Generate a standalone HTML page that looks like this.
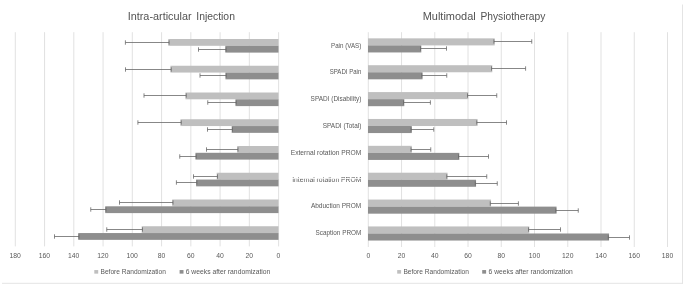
<!DOCTYPE html>
<html><head><meta charset="utf-8"><title>Chart</title>
<style>
html,body{margin:0;padding:0;background:#fff;}
body{width:685px;height:288px;overflow:hidden;}
svg{display:block;}
text{font-family:"Liberation Sans", sans-serif;fill:#595959;}
.t{font-size:11.2px;fill:#525252;}
.s{font-size:6.6px;}
.a{font-size:6.8px;}
</style></head><body>
<svg width="685" height="288" viewBox="0 0 685 288">
<rect width="685" height="288" fill="#ffffff"/>

<line x1="2" y1="283.3" x2="683" y2="283.3" stroke="#e4e4e4" stroke-width="1"/>
<line x1="682.5" y1="4.5" x2="682.5" y2="283.8" stroke="#e4e4e4" stroke-width="1"/>
<line x1="278.60" y1="32.2" x2="278.60" y2="246.4" stroke="#d9d9d9" stroke-width="0.8"/>
<line x1="249.34" y1="32.2" x2="249.34" y2="246.4" stroke="#d9d9d9" stroke-width="0.8"/>
<line x1="220.09" y1="32.2" x2="220.09" y2="246.4" stroke="#d9d9d9" stroke-width="0.8"/>
<line x1="190.83" y1="32.2" x2="190.83" y2="246.4" stroke="#d9d9d9" stroke-width="0.8"/>
<line x1="161.58" y1="32.2" x2="161.58" y2="246.4" stroke="#d9d9d9" stroke-width="0.8"/>
<line x1="132.32" y1="32.2" x2="132.32" y2="246.4" stroke="#d9d9d9" stroke-width="0.8"/>
<line x1="103.07" y1="32.2" x2="103.07" y2="246.4" stroke="#d9d9d9" stroke-width="0.8"/>
<line x1="73.81" y1="32.2" x2="73.81" y2="246.4" stroke="#d9d9d9" stroke-width="0.8"/>
<line x1="44.56" y1="32.2" x2="44.56" y2="246.4" stroke="#d9d9d9" stroke-width="0.8"/>
<line x1="15.30" y1="32.2" x2="15.30" y2="246.4" stroke="#d9d9d9" stroke-width="0.8"/>
<line x1="368.30" y1="32.2" x2="368.30" y2="247.0" stroke="#d9d9d9" stroke-width="0.8"/>
<line x1="401.54" y1="32.2" x2="401.54" y2="247.0" stroke="#d9d9d9" stroke-width="0.8"/>
<line x1="434.79" y1="32.2" x2="434.79" y2="247.0" stroke="#d9d9d9" stroke-width="0.8"/>
<line x1="468.03" y1="32.2" x2="468.03" y2="247.0" stroke="#d9d9d9" stroke-width="0.8"/>
<line x1="501.28" y1="32.2" x2="501.28" y2="247.0" stroke="#d9d9d9" stroke-width="0.8"/>
<line x1="534.52" y1="32.2" x2="534.52" y2="247.0" stroke="#d9d9d9" stroke-width="0.8"/>
<line x1="567.77" y1="32.2" x2="567.77" y2="247.0" stroke="#d9d9d9" stroke-width="0.8"/>
<line x1="601.01" y1="32.2" x2="601.01" y2="247.0" stroke="#d9d9d9" stroke-width="0.8"/>
<line x1="634.26" y1="32.2" x2="634.26" y2="247.0" stroke="#d9d9d9" stroke-width="0.8"/>
<line x1="667.50" y1="32.2" x2="667.50" y2="247.0" stroke="#d9d9d9" stroke-width="0.8"/>
<rect x="168.30" y="39.00" width="110.20" height="6.8" fill="#bfbfbf"/>
<rect x="225.30" y="45.80" width="53.20" height="6.8" fill="#8e8e8e"/>
<path d="M169.10 42.50H125.40M125.40 40.30V44.70M169.10 40.30V44.70" stroke="#686868" stroke-width="0.8" fill="none"/>
<path d="M226.10 49.50H198.50M198.50 47.30V51.70M226.10 47.30V51.70" stroke="#686868" stroke-width="0.8" fill="none"/>
<rect x="170.45" y="65.75" width="108.05" height="6.8" fill="#bfbfbf"/>
<rect x="225.45" y="72.55" width="53.05" height="6.8" fill="#8e8e8e"/>
<path d="M171.25 69.50H125.50M125.50 67.30V71.70M171.25 67.30V71.70" stroke="#686868" stroke-width="0.8" fill="none"/>
<path d="M226.25 75.50H200.00M200.00 73.30V77.70M226.25 73.30V77.70" stroke="#686868" stroke-width="0.8" fill="none"/>
<rect x="185.45" y="92.50" width="93.05" height="6.8" fill="#bfbfbf"/>
<rect x="235.45" y="99.30" width="43.05" height="6.8" fill="#8e8e8e"/>
<path d="M186.25 95.50H144.00M144.00 93.30V97.70M186.25 93.30V97.70" stroke="#686868" stroke-width="0.8" fill="none"/>
<path d="M236.25 102.50H207.75M207.75 100.30V104.70M236.25 100.30V104.70" stroke="#686868" stroke-width="0.8" fill="none"/>
<rect x="180.45" y="119.25" width="98.05" height="6.8" fill="#bfbfbf"/>
<rect x="231.70" y="126.05" width="46.80" height="6.8" fill="#8e8e8e"/>
<path d="M181.25 122.50H137.90M137.90 120.30V124.70M181.25 120.30V124.70" stroke="#686868" stroke-width="0.8" fill="none"/>
<path d="M232.50 129.50H207.50M207.50 127.30V131.70M232.50 127.30V131.70" stroke="#686868" stroke-width="0.8" fill="none"/>
<rect x="237.20" y="146.00" width="41.30" height="6.8" fill="#bfbfbf"/>
<rect x="195.45" y="152.80" width="83.05" height="6.8" fill="#8e8e8e"/>
<path d="M238.00 149.50H206.50M206.50 147.30V151.70M238.00 147.30V151.70" stroke="#686868" stroke-width="0.8" fill="none"/>
<path d="M196.25 156.50H179.75M179.75 154.30V158.70M196.25 154.30V158.70" stroke="#686868" stroke-width="0.8" fill="none"/>
<rect x="216.70" y="172.75" width="61.80" height="6.8" fill="#bfbfbf"/>
<rect x="196.10" y="179.55" width="82.40" height="6.8" fill="#8e8e8e"/>
<path d="M217.50 176.50H193.50M193.50 174.30V178.70M217.50 174.30V178.70" stroke="#686868" stroke-width="0.8" fill="none"/>
<path d="M196.90 182.50H176.40M176.40 180.30V184.70M196.90 180.30V184.70" stroke="#686868" stroke-width="0.8" fill="none"/>
<rect x="172.20" y="199.50" width="106.30" height="6.8" fill="#bfbfbf"/>
<rect x="105.20" y="206.30" width="173.30" height="6.8" fill="#8e8e8e"/>
<path d="M173.00 202.50H119.50M119.50 200.30V204.70M173.00 200.30V204.70" stroke="#686868" stroke-width="0.8" fill="none"/>
<path d="M106.00 209.50H90.75M90.75 207.30V211.70M106.00 207.30V211.70" stroke="#686868" stroke-width="0.8" fill="none"/>
<rect x="141.70" y="226.25" width="136.80" height="6.8" fill="#bfbfbf"/>
<rect x="78.20" y="233.05" width="200.30" height="6.8" fill="#8e8e8e"/>
<path d="M142.50 229.50H106.75M106.75 227.30V231.70M142.50 227.30V231.70" stroke="#686868" stroke-width="0.8" fill="none"/>
<path d="M79.00 236.50H54.50M54.50 234.30V238.70M79.00 234.30V238.70" stroke="#686868" stroke-width="0.8" fill="none"/>
<rect x="368.00" y="38.35" width="126.70" height="7.05" fill="#bfbfbf"/>
<rect x="368.00" y="45.40" width="53.30" height="7.05" fill="#8e8e8e"/>
<path d="M493.90 41.50H531.75M531.75 39.30V43.70M493.90 39.30V43.70" stroke="#686868" stroke-width="0.8" fill="none"/>
<path d="M420.50 48.50H446.50M446.50 46.30V50.70M420.50 46.30V50.70" stroke="#686868" stroke-width="0.8" fill="none"/>
<rect x="368.00" y="65.22" width="124.30" height="7.05" fill="#bfbfbf"/>
<rect x="368.00" y="72.27" width="54.55" height="7.05" fill="#8e8e8e"/>
<path d="M491.50 68.50H525.60M525.60 66.30V70.70M491.50 66.30V70.70" stroke="#686868" stroke-width="0.8" fill="none"/>
<path d="M421.75 75.50H446.75M446.75 73.30V77.70M421.75 73.30V77.70" stroke="#686868" stroke-width="0.8" fill="none"/>
<rect x="368.00" y="92.09" width="100.30" height="7.05" fill="#bfbfbf"/>
<rect x="368.00" y="99.14" width="36.30" height="7.05" fill="#8e8e8e"/>
<path d="M467.50 95.50H496.75M496.75 93.30V97.70M467.50 93.30V97.70" stroke="#686868" stroke-width="0.8" fill="none"/>
<path d="M403.50 102.50H430.40M430.40 100.30V104.70M403.50 100.30V104.70" stroke="#686868" stroke-width="0.8" fill="none"/>
<rect x="368.00" y="118.96" width="109.55" height="7.05" fill="#bfbfbf"/>
<rect x="368.00" y="126.01" width="43.80" height="7.05" fill="#8e8e8e"/>
<path d="M476.75 122.50H506.50M506.50 120.30V124.70M476.75 120.30V124.70" stroke="#686868" stroke-width="0.8" fill="none"/>
<path d="M411.00 129.50H433.75M433.75 127.30V131.70M411.00 127.30V131.70" stroke="#686868" stroke-width="0.8" fill="none"/>
<rect x="368.00" y="145.83" width="43.80" height="7.05" fill="#bfbfbf"/>
<rect x="368.00" y="152.88" width="91.30" height="7.05" fill="#8e8e8e"/>
<path d="M411.00 149.50H430.75M430.75 147.30V151.70M411.00 147.30V151.70" stroke="#686868" stroke-width="0.8" fill="none"/>
<path d="M458.50 156.50H488.50M488.50 154.30V158.70M458.50 154.30V158.70" stroke="#686868" stroke-width="0.8" fill="none"/>
<rect x="368.00" y="172.70" width="79.55" height="7.05" fill="#bfbfbf"/>
<rect x="368.00" y="179.75" width="108.05" height="7.05" fill="#8e8e8e"/>
<path d="M446.75 176.50H486.75M486.75 174.30V178.70M446.75 174.30V178.70" stroke="#686868" stroke-width="0.8" fill="none"/>
<path d="M475.25 183.50H497.25M497.25 181.30V185.70M475.25 181.30V185.70" stroke="#686868" stroke-width="0.8" fill="none"/>
<rect x="368.00" y="199.57" width="123.05" height="7.05" fill="#bfbfbf"/>
<rect x="368.00" y="206.62" width="188.55" height="7.05" fill="#8e8e8e"/>
<path d="M490.25 203.50H518.40M518.40 201.30V205.70M490.25 201.30V205.70" stroke="#686868" stroke-width="0.8" fill="none"/>
<path d="M555.75 210.50H578.25M578.25 208.30V212.70M555.75 208.30V212.70" stroke="#686868" stroke-width="0.8" fill="none"/>
<rect x="368.00" y="226.44" width="161.30" height="7.05" fill="#bfbfbf"/>
<rect x="368.00" y="233.49" width="241.05" height="7.05" fill="#8e8e8e"/>
<path d="M528.50 229.50H560.50M560.50 227.30V231.70M528.50 227.30V231.70" stroke="#686868" stroke-width="0.8" fill="none"/>
<path d="M608.25 237.50H629.50M629.50 235.30V239.70M608.25 235.30V239.70" stroke="#686868" stroke-width="0.8" fill="none"/>
<text class="t" y="19.8"><tspan x="127.7" textLength="63.9" lengthAdjust="spacingAndGlyphs">Intra-articular</tspan> <tspan x="196.3" textLength="38.6" lengthAdjust="spacingAndGlyphs">Injection</tspan></text>
<text class="t" y="19.8"><tspan x="422.7" textLength="53" lengthAdjust="spacingAndGlyphs">Multimodal</tspan> <tspan x="480.5" textLength="64.8" lengthAdjust="spacingAndGlyphs">Physiotherapy</tspan></text>
<text class="s" x="331.00" y="47.65" textLength="30.30" lengthAdjust="spacingAndGlyphs">Pain (VAS)</text>
<text class="s" x="329.70" y="74.45" textLength="31.60" lengthAdjust="spacingAndGlyphs">SPADI Pain</text>
<text class="s" x="310.60" y="101.25" textLength="50.70" lengthAdjust="spacingAndGlyphs">SPADI (Disability)</text>
<text class="s" x="322.75" y="128.05" textLength="38.55" lengthAdjust="spacingAndGlyphs">SPADI (Total)</text>
<text class="s" x="290.70" y="154.85" textLength="70.60" lengthAdjust="spacingAndGlyphs">External rotation PROM</text>
<text class="s" x="292.20" y="181.65" textLength="69.10" lengthAdjust="spacingAndGlyphs">Internal rotation PROM</text>
<text class="s" x="310.90" y="208.45" textLength="50.40" lengthAdjust="spacingAndGlyphs">Abduction PROM</text>
<text class="s" x="315.60" y="235.25" textLength="45.70" lengthAdjust="spacingAndGlyphs">Scaption PROM</text>
<rect x="291" y="178.0" width="71" height="1.0" fill="#ffffff" fill-opacity="0.8"/>
<text class="a" x="278.50" y="257.8" text-anchor="middle">0</text>
<text class="a" x="249.24" y="257.8" text-anchor="middle">20</text>
<text class="a" x="219.99" y="257.8" text-anchor="middle">40</text>
<text class="a" x="190.73" y="257.8" text-anchor="middle">60</text>
<text class="a" x="161.48" y="257.8" text-anchor="middle">80</text>
<text class="a" x="132.22" y="257.8" text-anchor="middle">100</text>
<text class="a" x="102.97" y="257.8" text-anchor="middle">120</text>
<text class="a" x="73.71" y="257.8" text-anchor="middle">140</text>
<text class="a" x="44.46" y="257.8" text-anchor="middle">160</text>
<text class="a" x="15.20" y="257.8" text-anchor="middle">180</text>
<text class="a" x="368.30" y="257.8" text-anchor="middle">0</text>
<text class="a" x="401.54" y="257.8" text-anchor="middle">20</text>
<text class="a" x="434.79" y="257.8" text-anchor="middle">40</text>
<text class="a" x="468.03" y="257.8" text-anchor="middle">60</text>
<text class="a" x="501.28" y="257.8" text-anchor="middle">80</text>
<text class="a" x="534.52" y="257.8" text-anchor="middle">100</text>
<text class="a" x="567.77" y="257.8" text-anchor="middle">120</text>
<text class="a" x="601.01" y="257.8" text-anchor="middle">140</text>
<text class="a" x="634.26" y="257.8" text-anchor="middle">160</text>
<text class="a" x="667.50" y="257.8" text-anchor="middle">180</text>
<rect x="94.30" y="270.05" width="3.9" height="3.6" fill="#bfbfbf"/>
<text class="s" x="100.5" y="273.90" textLength="65.40" lengthAdjust="spacingAndGlyphs">Before Randomization</text>
<rect x="179.60" y="270.05" width="3.9" height="3.6" fill="#8e8e8e"/>
<text class="s" x="185.7" y="273.90" textLength="84.70" lengthAdjust="spacingAndGlyphs">6 weeks after randomization</text>
<rect x="397.20" y="270.05" width="3.9" height="3.6" fill="#bfbfbf"/>
<text class="s" x="403.4" y="273.90" textLength="65.60" lengthAdjust="spacingAndGlyphs">Before Randomization</text>
<rect x="482.20" y="270.05" width="3.9" height="3.6" fill="#8e8e8e"/>
<text class="s" x="488.6" y="273.90" textLength="84.10" lengthAdjust="spacingAndGlyphs">6 weeks after randomization</text>
</svg></body></html>
